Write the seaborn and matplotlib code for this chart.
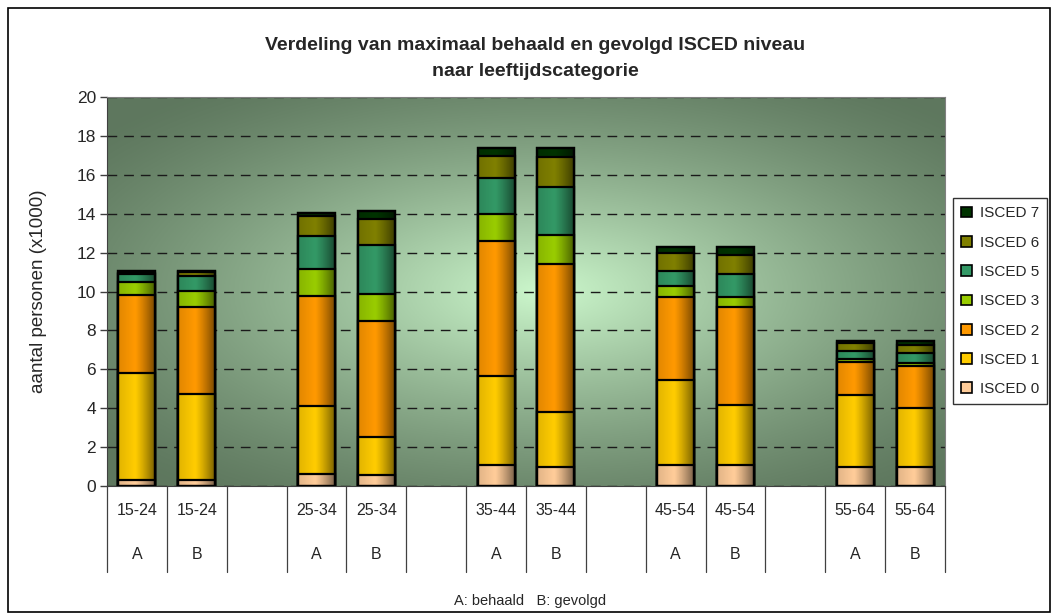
import numpy as np
import pandas as pd
import seaborn as sns
import matplotlib.pyplot as plt
from matplotlib.patches import Rectangle, Patch
from matplotlib.transforms import blended_transform_factory

groups = ["15-24", "25-34", "35-44", "45-54", "55-64"]
kinds = ["A", "B"]
levels = ["ISCED 0", "ISCED 1", "ISCED 2", "ISCED 3", "ISCED 5", "ISCED 6", "ISCED 7"]
colors = ["#ffcc99", "#ffcc00", "#ff9900", "#99cc00", "#339966", "#808000", "#003300"]

# values per bar (x1000), order: 15-24 A, 15-24 B, 25-34 A, 25-34 B, ...
isced0 = [0.30, 0.30, 0.60, 0.55, 1.09, 0.99, 1.09, 1.09, 1.00, 1.00]
isced1 = [5.53, 4.45, 3.52, 1.95, 4.59, 2.84, 4.36, 3.05, 3.67, 3.03]
isced2 = [3.98, 4.45, 5.64, 6.00, 6.94, 7.60, 4.28, 5.07, 1.71, 2.16]
isced3 = [0.69, 0.84, 1.39, 1.35, 1.38, 1.49, 0.55, 0.52, 0.17, 0.15]
isced5 = [0.42, 0.77, 1.69, 2.53, 1.81, 2.46, 0.78, 1.15, 0.41, 0.52]
isced6 = [0.05, 0.20, 1.06, 1.35, 1.16, 1.52, 0.94, 1.01, 0.37, 0.39]
isced7 = [0.08, 0.05, 0.13, 0.39, 0.43, 0.50, 0.27, 0.38, 0.14, 0.22]

series = [isced0, isced1, isced2, isced3, isced5, isced6, isced7]

bar_names = [g + " " + k for g in groups for k in kinds]
order = []
for i, g in enumerate(groups):
    order += [g + " A", g + " B"]
    if i < len(groups) - 1:
        order.append("gap%d" % i)

cum = np.cumsum(np.array(series), axis=0)
rows = []
for li, lev in enumerate(levels):
    for bi, name in enumerate(bar_names):
        rows.append({"slot": name, "level": lev, "cum": cum[li, bi]})
df = pd.DataFrame(rows)

sns.set_style("white")
plt.rcParams['font.family'] = ['Liberation Sans', 'DejaVu Sans']

fig = plt.figure(figsize=(10.55, 6.16), dpi=100)
ax = fig.add_axes([107 / 1055, 1 - 486 / 616, 838 / 1055, 389 / 616])

# radial green background
u = np.linspace(0, 1, 400)
v = np.linspace(0, 1, 300)
U, V = np.meshgrid(u, v)
d = np.sqrt(((U - 0.52) / 0.68) ** 2 + ((V - 0.5) / 0.64) ** 2)
t = np.clip(1 - d, 0, 1) ** 1.3
light = np.array([0.80, 0.97, 0.80])
dark = np.array([0.37, 0.47, 0.37])
bg = dark + (light - dark) * t[..., None]
ax.imshow(bg, extent=[0, 1, 0, 1], transform=ax.transAxes, aspect="auto",
          origin="lower", zorder=-2)

# stacked bars: draw cumulative totals from top level down
total_patches = None
for li in range(len(levels) - 1, -1, -1):
    n_before = len(ax.patches)
    sns.barplot(data=df[df["level"] == levels[li]], x="slot", y="cum", order=order,
                color=colors[li], saturation=1, edgecolor="black", linewidth=1.6,
                width=0.62, ax=ax, zorder=2)
    if total_patches is None:
        total_patches = ax.patches[n_before:]

# horizontal shading on each bar
grad = np.linspace(0, 1, 64)
alpha = np.where(grad < 0.45, 0.12 * (1 - grad / 0.45), 0.55 * ((grad - 0.45) / 0.55) ** 1.2)
shade = np.zeros((1, 64, 4))
shade[0, :, 3] = alpha
for p in total_patches:
    x0, y0 = p.get_x(), p.get_y()
    w, h = p.get_width(), p.get_height()
    if h <= 0 or np.isnan(h):
        continue
    ax.imshow(shade, extent=[x0, x0 + w, y0, y0 + h], aspect="auto", zorder=3)
    ax.add_patch(Rectangle((x0, y0), w, h, fill=False, edgecolor="black",
                           linewidth=1.6, zorder=4))

ax.set_xlim(-0.5, len(order) - 0.5)
ax.set_ylim(0, 20)
ax.set_yticks(np.arange(0, 21, 2))
ax.yaxis.grid(True, color="#1a1a1a", linestyle=(0, (7, 5)), linewidth=1.0)
ax.set_axisbelow(True)
for s in ["top", "right", "bottom"]:
    ax.spines[s].set_color("#808080")
ax.spines["left"].set_color("#404040")
ax.spines["bottom"].set_color("#404040")
ax.tick_params(axis="y", direction="out", length=5, width=1, color="#404040",
               labelsize=12.5, left=True, pad=3)
ax.tick_params(axis="x", length=0, labelbottom=False)
ax.set_xlabel("")
ax.set_ylabel("aantal personen (x1000)", fontsize=13.5)
ax.yaxis.set_label_coords(-(107 - 47) / 838, 0.5)

# two-level category labels
trans = blended_transform_factory(ax.transData, ax.transAxes)
for i in range(len(order) + 1):
    ax.plot([i - 0.5, i - 0.5], [0, -0.222], transform=trans, color="#404040",
            linewidth=0.9, clip_on=False)
for i, name in enumerate(order):
    if name.startswith("gap"):
        continue
    g, k = name.split(" ")
    ax.text(i, -0.062, g, transform=trans, ha="center", va="center", fontsize=11.5)
    ax.text(i, -0.177, k, transform=trans, ha="center", va="center", fontsize=11.5)

fig.text(0.507, 1 - 45 / 616, "Verdeling van maximaal behaald en gevolgd ISCED niveau",
         ha="center", va="center", fontsize=14, fontweight="bold")
fig.text(0.507, 1 - 71 / 616, "naar leeftijdscategorie",
         ha="center", va="center", fontsize=14, fontweight="bold")
fig.text(530 / 1055, 1 - 601 / 616, "A: behaald   B: gevolgd", ha="center",
         va="center", fontsize=10.5)

handles = [Patch(facecolor=colors[i], edgecolor="black", linewidth=1.2, label=levels[i])
           for i in range(len(levels) - 1, -1, -1)]
leg = fig.legend(handles=handles, loc="upper left",
                 bbox_to_anchor=(953 / 1055, 1 - 198 / 616), frameon=True,
                 fontsize=11, handlelength=0.7, handleheight=0.7, handletextpad=0.5,
                 labelspacing=1.0, borderpad=0.55, fancybox=False, borderaxespad=0)
leg.get_frame().set_edgecolor("black")
leg.get_frame().set_linewidth(1.0)

fig.patches.append(Rectangle((8 / 1055, 1 - 612 / 616), 1042 / 1055, 604 / 616,
                             transform=fig.transFigure, fill=False,
                             edgecolor="black", linewidth=1.2))

fig.savefig("out.png", dpi=100)
